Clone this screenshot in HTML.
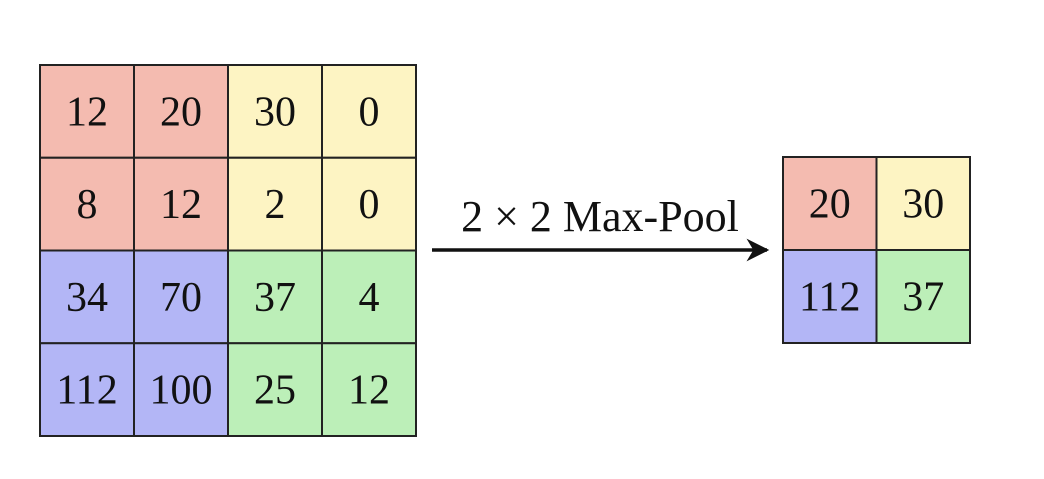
<!DOCTYPE html>
<html><head><meta charset="utf-8"><style>
html,body{margin:0;padding:0;background:#fff;}
body{width:1044px;height:474px;overflow:hidden;}
svg text{font-family:"Liberation Serif",serif;fill:#111;}
</style></head><body>
<svg id="fig" width="1044" height="474" viewBox="0 0 1044 474">
<defs><marker id="ah" viewBox="0 0 10 10" refX="9" refY="5" markerWidth="6.5" markerHeight="6.5" orient="auto"><path d="M0,0 L10,5 L0,10 L3,5 Z" fill="#111"/></marker></defs>
<g id="input"></g>
<g id="output"></g>
<line x1="432" y1="250" x2="767" y2="250" stroke="#111" stroke-width="3.5" marker-end="url(#ah)"/>
<text x="600" y="231" font-size="44" text-anchor="middle">2 × 2 Max-Pool</text>
</svg>
<script>
const inputValues = [
  [12, 20, 30, 0],
  [8, 12, 2, 0],
  [34, 70, 37, 4],
  [112, 100, 25, 12]
];
const quadrantColors = ["#f4bbb0", "#fdf4c3", "#b3b6f6", "#bcefb8"];
const NS = "http://www.w3.org/2000/svg";
function drawGrid(g, vals, x0, y0, cw, ch, colorFn, nameBase) {
  const rows = vals.length, cols = vals[0].length;
  for (let r = 0; r < rows; r++) for (let c = 0; c < cols; c++) {
    const rect = document.createElementNS(NS, "rect");
    
    
    rect.setAttribute("x", x0 + c * cw); rect.setAttribute("y", y0 + r * ch);
    rect.setAttribute("width", cw); rect.setAttribute("height", ch);
    rect.setAttribute("fill", colorFn(r, c));
    rect.setAttribute("stroke", "#222"); rect.setAttribute("stroke-width", "2");
    g.appendChild(rect);
    const t = document.createElementNS(NS, "text");
    
    
    t.setAttribute("x", x0 + c * cw + cw / 2); t.setAttribute("y", y0 + r * ch + ch / 2 + 14);
    t.setAttribute("text-anchor", "middle"); t.setAttribute("font-size", "42");
    t.textContent = vals[r][c];
    g.appendChild(t);
  }
}
const pooled = [];
for (let r = 0; r < 2; r++) { pooled.push([]); for (let c = 0; c < 2; c++) {
  pooled[r].push(Math.max(inputValues[2*r][2*c], inputValues[2*r][2*c+1], inputValues[2*r+1][2*c], inputValues[2*r+1][2*c+1]));
}}
drawGrid(document.getElementById("input"), inputValues, 40, 65, 94, 92.75,
  (r, c) => quadrantColors[Math.floor(r/2)*2 + Math.floor(c/2)], "input");
drawGrid(document.getElementById("output"), pooled, 783, 157, 93.5, 93,
  (r, c) => quadrantColors[r*2 + c], "output");
</script>
</body></html>
